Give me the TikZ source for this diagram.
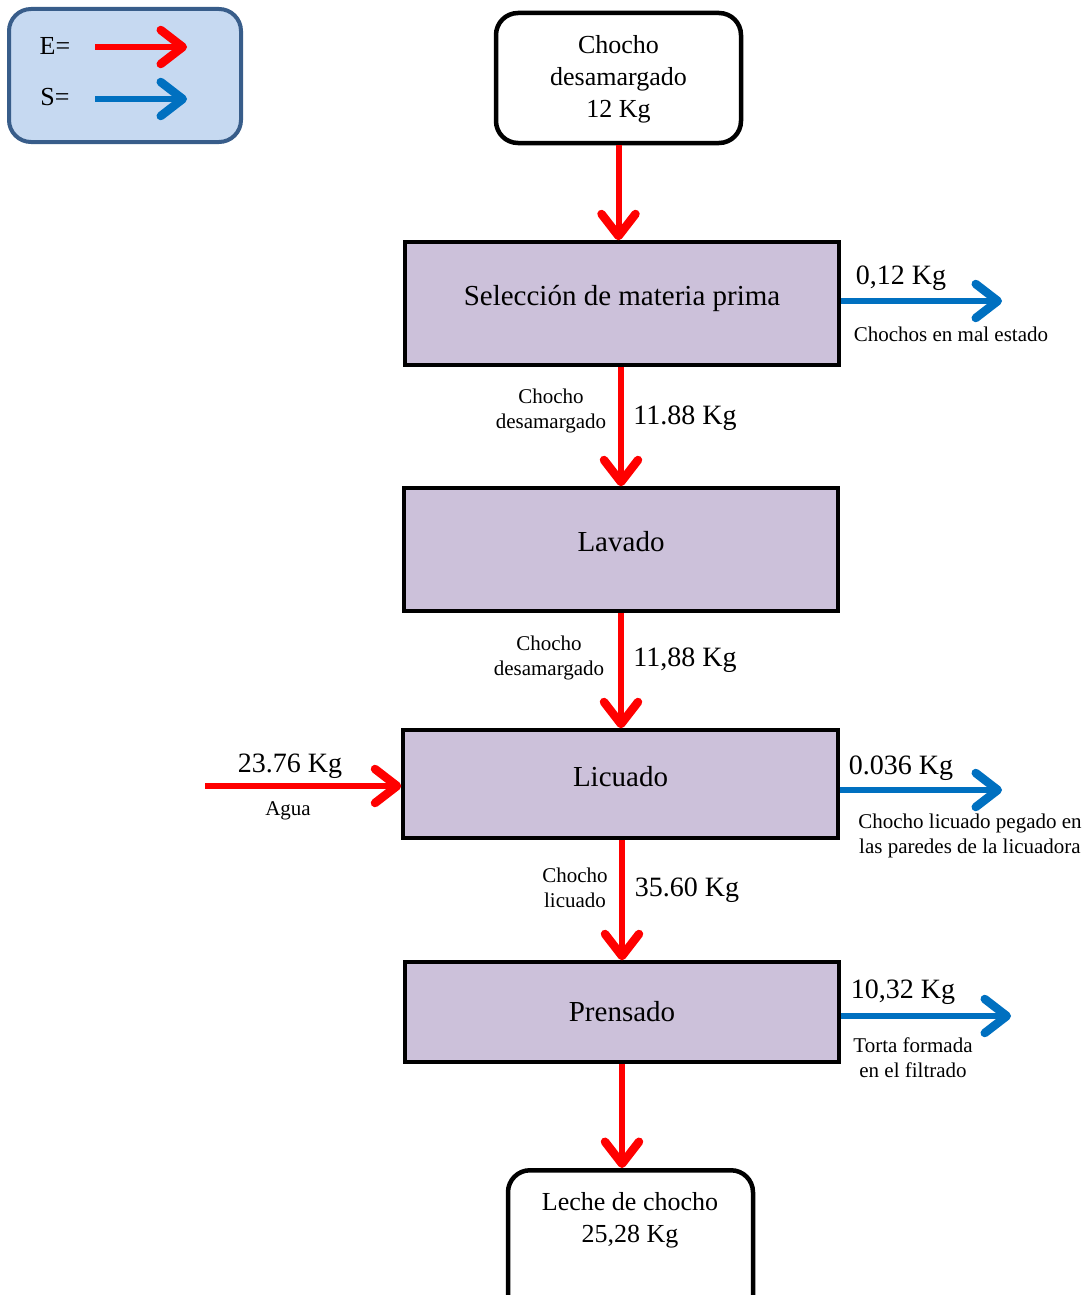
\documentclass[tikz,border=0pt]{standalone}
\usepackage{fontspec}
\setmainfont{Liberation Serif}
\usetikzlibrary{arrows.meta}
\definecolor{procfill}{HTML}{CCC1DA}
\definecolor{ered}{HTML}{FF0000}
\definecolor{sblue}{HTML}{0070C0}
\definecolor{keyfill}{HTML}{C6D9F1}
\definecolor{keyline}{HTML}{385D8A}
\newcommand{\boxlabel}[2]{\raisebox{#1}{\smash{#2}}}
\begin{document}
\begin{tikzpicture}[x=1pt,y=-1pt,
  proc/.style={draw=black, line width=3.5pt, fill=procfill, minimum width=434pt,
    inner sep=0pt, font=\fontsize{29}{32}\selectfont},
  term/.style={draw=black, line width=4.5pt, rounded corners=22pt, fill=white,
    align=center, inner sep=0pt, font=\fontsize{26}{32}\selectfont},
  flow/.style={line width=6pt, -{Straight Barb[length=22pt,width=34pt,line width=8.5pt,round]}},
  inflow/.style={flow, draw=ered},
  outflow/.style={flow, draw=sblue},
  qty/.style={font=\fontsize{28}{30}\selectfont, inner sep=0pt},
  note/.style={font=\fontsize{21}{25}\selectfont, align=center, inner sep=0pt},
]
\useasboundingbox (0,0) rectangle (1091,1295);

% legend
\node[draw=keyline, line width=4pt, rounded corners=22pt, fill=keyfill,
  minimum width=232pt, minimum height=133pt] (key) at (125,75.5) {};
\node[qty, font=\fontsize{26}{30}\selectfont] (keyE) at (55,46) {E=};
\node[qty, font=\fontsize{26}{30}\selectfont] (keyS) at (55,97) {S=};
\coordinate (keyEa) at (95,47);
\coordinate (keyEb) at (187,47);
\coordinate (keySa) at (95,99);
\coordinate (keySb) at (187,99);
\draw[inflow] (keyEa) -- (keyEb);
\draw[outflow] (keySa) -- (keySb);

% process chain
\node[term, minimum width=245pt, minimum height=130pt] (raw) at (618.5,78)
  {\boxlabel{-14pt}{\begin{tabular}{@{}c@{}}Chocho\\desamargado\\12 Kg\end{tabular}}};
\node[proc, minimum height=123pt] (sel) at (622,303.5) {\boxlabel{-3pt}{Selección de materia prima}};
\node[proc, minimum height=123pt] (lav) at (621,549.5) {\boxlabel{-3pt}{Lavado}};
\node[proc, minimum width=435pt, minimum height=108pt] (lic) at (620.5,784) {\boxlabel{-4pt}{Licuado}};
\node[proc, minimum height=100pt] (pre) at (622,1012) {\boxlabel{-18pt}{Prensado}};
\node[term, minimum width=245pt, minimum height=160pt, anchor=north] (milk) at (630.5,1168) {};
\node[term, draw=none, fill=none] (milktext) at (630,1220) {Leche de chocho\\25,28 Kg};

% main flow
\draw[inflow] (raw.south) -- (raw.south |- sel.north);
\draw[inflow] ([xshift=-1pt]sel.south) -- ([xshift=-1pt]sel.south |- lav.north);
\draw[inflow] (lav.south) -- (lav.south |- lic.north);
\draw[inflow] ([xshift=1.5pt]lic.south) -- ([xshift=1.5pt]lic.south |- pre.north);
\draw[inflow] (pre.south) -- (pre.south |- milk.north);

% side streams
\coordinate (water) at (205,786);
\draw[inflow] (water) -- (water -| lic.west);
\coordinate (out1) at (1002,301);
\draw[outflow] (out1 -| sel.east) -- (out1);
\coordinate (out2) at (1002,790);
\draw[outflow] (out2 -| lic.east) -- (out2);
\coordinate (out3) at (1011,1016);
\draw[outflow] (out3 -| pre.east) -- (out3);

% quantities and stream names
\node[qty] (q1) at (901,278) {0,12 Kg};
\node[note] (n1) at (951,334) {Chochos en mal estado};
\node[note] (n2) at (551,411) {Chocho\\desamargado};
\node[qty] (q2) at (685,418) {11.88 Kg};
\node[note] (n3) at (549,658) {Chocho\\desamargado};
\node[qty] (q3) at (685,660) {11,88 Kg};
\node[qty] (q4) at (290,766) {23.76 Kg};
\node[note] (n4) at (288,811) {Agua};
\node[qty] (q5) at (901,768) {0.036 Kg};
\node[note] (n5) at (970,836) {Chocho licuado pegado en\\las paredes de la licuadora};
\node[note] (n6) at (575,888) {Chocho\\licuado};
\node[qty] (q6) at (687,890) {35.60 Kg};
\node[qty] (q7) at (903,992) {10,32 Kg};
\node[note] (n7) at (913,1058) {Torta formada\\en el filtrado};
\end{tikzpicture}
\end{document}
